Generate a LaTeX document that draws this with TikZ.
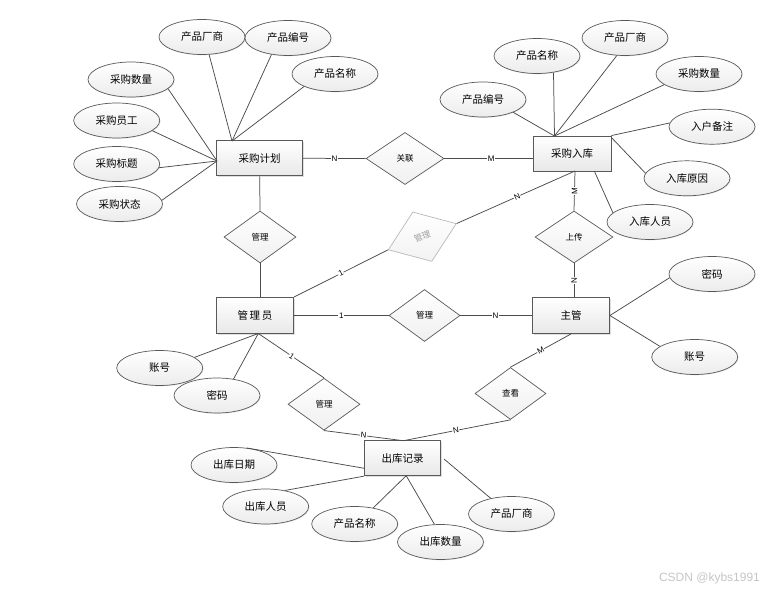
\documentclass[tikz,border=0pt]{standalone}
\usepackage{fontspec}
\setmainfont{Noto Sans CJK SC}
\newfontfamily\latinfont{Liberation Sans}
\usetikzlibrary{shapes.geometric,shadows,calc}
\begin{document}
\begin{tikzpicture}[x=1pt,y=-1pt,
  ent/.style={rectangle, draw=gray!70!black, line width=0.9pt, top color=white, bottom color=gray!18,
    minimum width=86pt, minimum height=35pt, inner sep=0pt, font=\fontsize{10.5}{12}\selectfont,
    drop shadow={shadow xshift=1.2pt, shadow yshift=-1.2pt, opacity=0.25}},
  attr/.style={ellipse, draw=gray!70!black, line width=0.7pt, top color=white, bottom color=gray!15,
    minimum width=86pt, minimum height=35pt, inner sep=0pt, font=\fontsize{10.5}{12}\selectfont,
    drop shadow={shadow xshift=0.8pt, shadow yshift=-0.8pt, opacity=0.18}},
  rel/.style={diamond, draw=gray!70!black, line width=0.7pt, top color=white, bottom color=gray!12,
    minimum width=72pt, minimum height=52pt, inner sep=0pt, font=\fontsize{8.5}{10}\selectfont},
  lbl/.style={font=\latinfont\fontsize{8}{9}\selectfont, fill=white, inner sep=0.6pt},
  conn/.style={draw=gray!60!black, line width=0.75pt}]
\fill[white] (0,0) rectangle (780,592);
\useasboundingbox (0,0) rectangle (780,592);

% entities
\node[ent] (jh) at (259.7,158.3) {采购计划};
\node[ent, minimum width=78pt] (rk) at (572,153.5) {采购入库};
\node[ent, minimum width=77pt, minimum height=36pt] (gly) at (255,315.5) {管\,理\,员};
\node[ent, minimum width=77pt, minimum height=36pt] (zg) at (571,315.5) {主管};
\node[ent, minimum width=76pt] (ck) at (402.5,458.2) {出库记录};

% relations
\node[rel, minimum width=78pt] (gl) at (405,158.5) {关联};
\node[rel] (d1) at (260,237) {管理};
\node[rel, minimum width=78pt] (sc) at (574,237) {上传};
\node[rel, minimum width=71pt] (d2) at (424.5,315.5) {管理};
\node[rel] (d3) at (324,404.2) {管理};
\node[rel, minimum width=71pt] (kk) at (510.5,393.5) {查看};
\node[rel, rotate=21, draw=gray!55, text=gray!75, top color=white, bottom color=gray!10,
  minimum width=73pt, minimum height=53pt] (gd) at (422.3,236.7) {管理};

% attributes of 采购计划
\node[attr] (a1) at (202,37) {产品厂商};
\node[attr] (a2) at (288,38) {产品编号};
\node[attr] (a3) at (335,74) {产品名称};
\node[attr] (a4) at (131,79.5) {采购数量};
\node[attr] (a5) at (116.7,120.5) {采购员工};
\node[attr] (a6) at (116.7,164) {采购标题};
\node[attr] (a7) at (119.5,204) {采购状态};
\coordinate (jt) at (232,141);
\coordinate (jl) at (217,161);
\draw[conn] (a1.-68) -- (jt);
\draw[conn] (a2.-135) -- (jt);
\draw[conn] (a3.-158) -- (jt);
\draw[conn] (a4.-14) -- (jl);
\draw[conn] (a5.-16) -- (jl);
\draw[conn] (a6.-5) -- (jl);
\draw[conn] (a7.5) -- (jl);

% attributes of 采购入库
\node[attr] (b1) at (483,99.5) {产品编号};
\node[attr] (b2) at (537,56) {产品名称};
\node[attr] (b3) at (625,38) {产品厂商};
\node[attr] (b4) at (699,74) {采购数量};
\node[attr] (b5) at (712,126.7) {入户备注};
\node[attr] (b6) at (687,178.3) {入库原因};
\node[attr] (b7) at (650,222) {入库人员};
\coordinate (rt) at (554.5,136);
\coordinate (rb) at (594.3,171);
\coordinate (rs) at (575,171);
\draw[conn] (b1.-23) -- (rt);
\draw[conn] (b2.-45) -- (rt);
\draw[conn] (b3.-115) -- (rt);
\draw[conn] (b4.-163) -- (rt);
\draw[conn] (b5.175) -- (rk.north east);
\draw[conn] (b6.173) -- ($(rk.north east)+(0,2)$);
\draw[conn] (b7.166) -- (rb);

% attributes of 主管
\node[attr] (c1) at (712,274) {密码};
\node[attr] (c2) at (694.7,357) {账号};
\draw[conn] (c1.-175) -- (zg.east);
\draw[conn] (c2.163) -- (zg.east);

% attributes of 管理员
\node[attr] (e1) at (159.7,368) {账号};
\node[attr] (e2) at (217,395.5) {密码};
\coordinate (gb) at (258.3,333.5);
\draw[conn] (e1.17) -- (gb);
\draw[conn] (e2.45) -- (gb);

% attributes of 出库记录
\node[attr] (f1) at (234,465) {出库日期};
\node[attr] (f2) at (265.7,506.5) {出库人员};
\node[attr] (f3) at (354.7,524) {产品名称};
\node[attr] (f4) at (440.5,542) {出库数量};
\node[attr] (f5) at (511.5,514) {产品厂商};
\coordinate (cl) at (364.3,468.3);
\coordinate (cb) at (406.2,475.7);
\coordinate (cr) at (444,459);
\coordinate (ct) at (403.3,440.7);
\draw[conn] (f1.53) -- (cl);
\draw[conn] (f2.40) -- (ck.south west);
\draw[conn] (f3.41) -- (cb);
\draw[conn] (f4.109) -- (cb);
\draw[conn] (f5.143) -- (cr);

% relationship connectors
\draw[conn] (jh.east) -- node[lbl] {N} (gl.west);
\draw[conn] (gl.east) -- node[lbl, pos=0.53] {M} (gl.east -| rk.west);
\draw[conn] (jh.south) -- (d1.north);
\draw[conn] (d1.south) -- (d1.south |- gly.north);
\draw[conn] (rs) -- node[lbl, pos=0.49, sloped] {N} (gd.east);
\draw[conn] (gd.west) -- node[lbl, sloped] {1} (gly.north east);
\draw[conn] (rs) -- node[lbl, rotate=90] {M} (sc.north);
\draw[conn] (sc.south) -- node[lbl, rotate=90] {N} (sc.south |- zg.north);
\draw[conn] (gly.east) -- node[lbl, pos=0.5] {1} (d2.west);
\draw[conn] (d2.east) -- node[lbl, pos=0.49] {N} (zg.west);
\draw[conn] (gb) -- node[lbl, pos=0.51, sloped] {1} (d3.north);
\draw[conn] (d3.south) -- node[lbl, pos=0.5, sloped] {N} (ct);
\draw[conn] (kk.south) -- node[lbl, pos=0.51, sloped] {N} (ct);
\draw[conn] (zg.south) -- node[lbl, pos=0.5, sloped] {M} (kk.north);

% watermark
\node[font=\latinfont\fontsize{12}{14}\selectfont, text=gray!45] (wm) at (709.5,578.5) {CSDN @kybs1991};
\end{tikzpicture}
\end{document}
